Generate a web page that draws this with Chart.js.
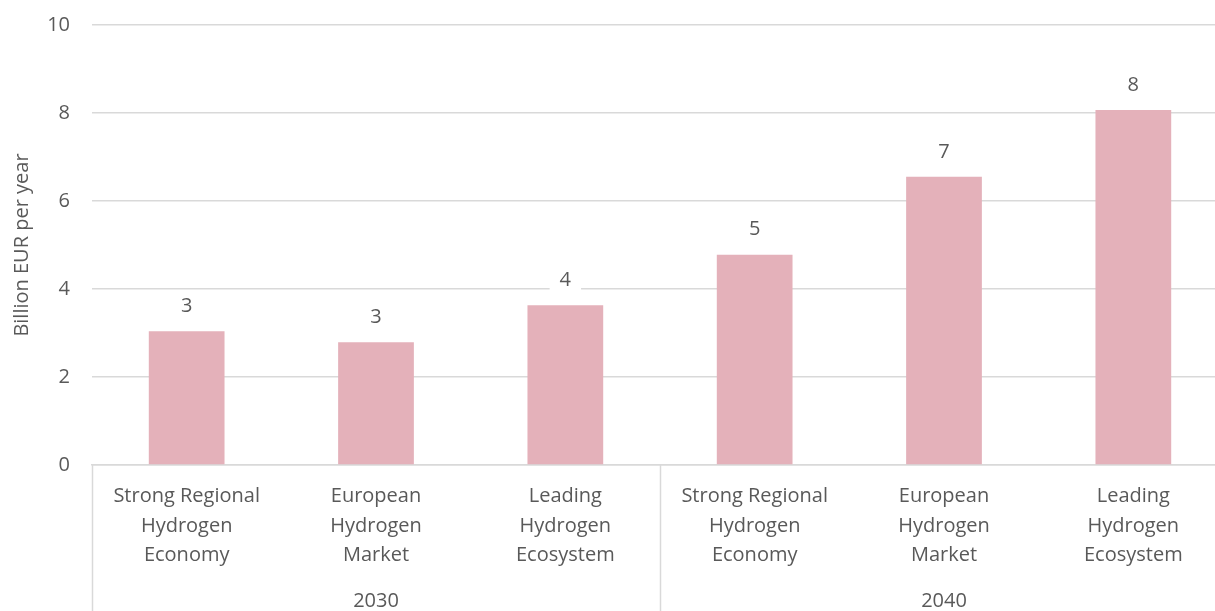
<!DOCTYPE html>
<html>
<head>
<meta charset="utf-8">
<script src="https://cdn.jsdelivr.net/npm/chart.js@4/dist/chart.umd.min.js"></script>
<style>
  html, body { margin: 0; padding: 0; background: #fff; overflow: hidden; }
  #wrap { width: 1230px; height: 620px; margin-top: -9px; }
</style>
</head>
<body>
<div id="wrap"><canvas id="myChart" width="1230" height="620"></canvas></div>
<script>
var scenarios = [
  ['Strong Regional', 'Hydrogen', 'Economy'],
  ['European', 'Hydrogen', 'Market'],
  ['Leading', 'Hydrogen', 'Ecosystem'],
  ['Strong Regional', 'Hydrogen', 'Economy'],
  ['European', 'Hydrogen', 'Market'],
  ['Leading', 'Hydrogen', 'Ecosystem']
];
var years = ['2030', '2040'];
var perYear = 3;
var investment = [3.04, 2.79, 3.63, 4.78, 6.55, 8.07];

var textColor = '#595959';
var lineColor = '#d9d9d9';
var fontFamily = '"Open Sans", "Noto Sans", sans-serif';
var fontSize = 20;

// labels above the bars, white box behind so gridline is cut
var barLabels = {
  id: 'barLabels',
  afterDatasetsDraw: function (chart) {
    var ctx = chart.ctx;
    var meta = chart.getDatasetMeta(0);
    ctx.save();
    ctx.font = fontSize + 'px ' + fontFamily;
    ctx.textAlign = 'center';
    ctx.textBaseline = 'middle';
    meta.data.forEach(function (bar, i) {
      var txt = Math.round(investment[i]).toString();
      var y = bar.y - 25;
      var w = ctx.measureText(txt).width;
      ctx.fillStyle = '#fff';
      ctx.fillRect(bar.x - w / 2 - 10, y - 14, w + 20, 28);
      ctx.fillStyle = textColor;
      ctx.fillText(txt, bar.x, y);
    });
    ctx.restore();
  }
};

// second level of the category axis: year groups and separators
var yearGroups = {
  id: 'yearGroups',
  afterDraw: function (chart) {
    var ctx = chart.ctx;
    var x = chart.scales.x;
    var area = chart.chartArea;
    var step = (x.right - x.left) / investment.length;
    ctx.save();
    ctx.strokeStyle = lineColor;
    ctx.lineWidth = 1.5;
    for (var g = 0; g <= years.length; g++) {
      var px = Math.round(x.left + g * perYear * step) + 0.5;
      ctx.beginPath();
      ctx.moveTo(px, area.bottom);
      ctx.lineTo(px, chart.height);
      ctx.stroke();
    }
    ctx.font = fontSize + 'px ' + fontFamily;
    ctx.fillStyle = textColor;
    ctx.textAlign = 'center';
    ctx.textBaseline = 'middle';
    years.forEach(function (yr, g) {
      var cx = x.left + (g * perYear + perYear / 2) * step;
      ctx.fillText(yr, cx, area.bottom + 136);
    });
    ctx.restore();
  }
};

var ctx = document.getElementById('myChart');
var myChart = new Chart(ctx, {
  type: 'bar',
  data: {
    labels: scenarios,
    datasets: [{
      data: investment,
      backgroundColor: '#e4b1ba',
      borderWidth: 0,
      categoryPercentage: 1,
      barPercentage: 0.4
    }]
  },
  options: {
    responsive: false,
    animation: false,
    layout: { padding: { top: 15, right: 2, left: 0, bottom: 0 } },
    plugins: {
      legend: { display: false },
      tooltip: { enabled: false }
    },
    scales: {
      x: {
        grid: { display: false },
        border: { display: true, color: lineColor, width: 1.5 },
        ticks: {
          color: textColor,
          font: { family: fontFamily, size: fontSize, lineHeight: 1.47 },
          padding: 9,
          maxRotation: 0,
          autoSkip: false
        },
        afterFit: function (scale) { scale.height = 146; }
      },
      y: {
        min: 0,
        max: 10,
        grid: { color: lineColor, lineWidth: 1.5, drawTicks: false },
        border: { display: false },
        ticks: {
          stepSize: 2,
          color: textColor,
          font: { family: fontFamily, size: fontSize },
          padding: 22
        },
        title: {
          display: true,
          text: 'Billion EUR per year',
          color: textColor,
          font: { family: fontFamily, size: fontSize },
          padding: { top: 10, bottom: 0 }
        },
        afterFit: function (scale) { scale.width = 92; }
      }
    }
  },
  plugins: [barLabels, yearGroups]
});
</script>
</body>
</html>
